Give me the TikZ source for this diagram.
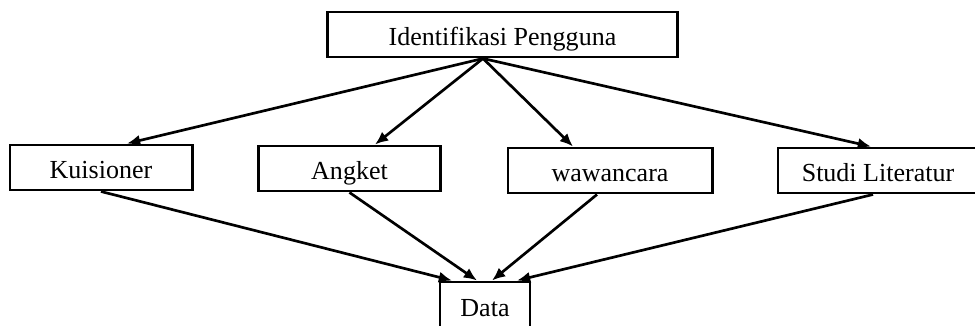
\documentclass[tikz,border=0pt]{standalone}
\usepackage{fontspec}
\setmainfont{Liberation Serif}
\usetikzlibrary{arrows.meta,calc}

\begin{document}
\begin{tikzpicture}[x=0.025cm,y=-0.025cm]
  \tikzstyle{every node}=[font=\fontsize{18.5}{21}\selectfont]
  \tikzstyle{box}=[draw,line width=2.1pt,rectangle,minimum height=1.125cm,inner sep=0pt,
    text height=17.5pt,text depth=2.5pt]
  \tikzstyle{arrow}=[line width=1.9pt,-{Latex[length=0.33cm,width=0.28cm]}]
  \clip (0,0) rectangle (975,325);
  \node[box,minimum width=8.73cm] (idp) at (502.5,34.5) {Identifikasi Pengguna};
  \node[box,minimum width=4.55cm] (kui) at (101,167.5) {Kuisioner};
  \node[box,minimum width=4.53cm] (ang) at (349.5,168.5) {Angket};
  \node[box,minimum width=5.1cm] (waw) at (610,170.5) {wawancara};
  \node[box,minimum width=5cm] (stu) at (878,170.5) {Studi Literatur};
  \node[box,minimum width=2.25cm,minimum height=1.2cm] (data) at (485,306) {Data};
  \coordinate (top) at ($(idp.south)+(-19.5,0)$);
  \draw[arrow] (top) -- ($(kui.north)+(26,0)$);
  \draw[arrow] (top) -- ($(ang.north)+(25.5,0)$);
  \draw[arrow] (top) -- ($(waw.north)+(-37,0)$);
  \draw[arrow] (top) -- ($(stu.north)+(-7,0)$);
  \draw[arrow] (kui.south) -- ($(data.north)+(-33,0)$);
  \draw[arrow] (ang.south) -- ($(data.north)+(-8,0)$);
  \draw[arrow] ($(waw.south)+(-13,0)$) -- ($(data.north)+(7,0)$);
  \draw[arrow] ($(stu.south)+(-5,0)$) -- ($(data.north)+(32,0)$);
\end{tikzpicture}
\end{document}
